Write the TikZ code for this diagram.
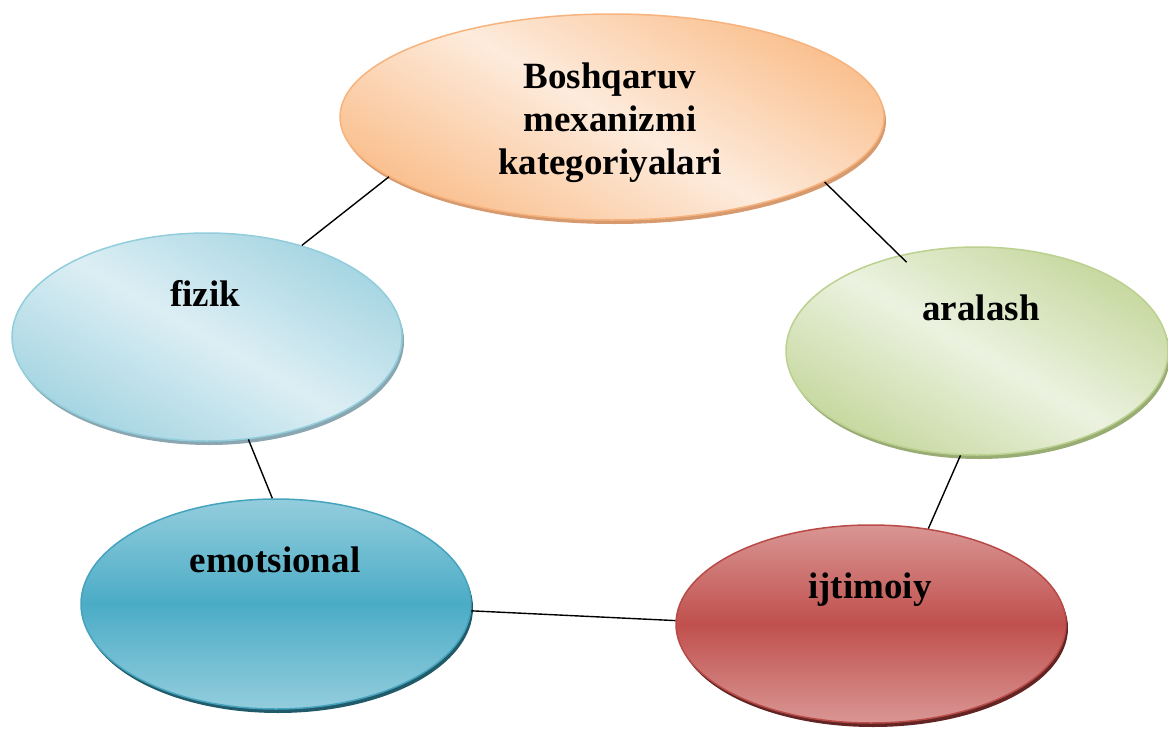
\documentclass[tikz,border=0pt]{standalone}
\usepackage{fontspec}
\setmainfont{Liberation Serif}
\usetikzlibrary{shapes.geometric}
\definecolor{oedge}{HTML}{FAC08F}
\definecolor{ocenter}{HTML}{FDEBDC}
\definecolor{oborder}{HTML}{F7B37E}
\definecolor{oshadow}{HTML}{D69A6E}
\definecolor{bedge}{HTML}{A5D5E2}
\definecolor{bcenter}{HTML}{DCEEF4}
\definecolor{bborder}{HTML}{92CDDC}
\definecolor{bshadow}{HTML}{8AA6B0}
\definecolor{gedge}{HTML}{C6D89F}
\definecolor{gcenter}{HTML}{ECF2E0}
\definecolor{gborder}{HTML}{BCD18F}
\definecolor{gshadow}{HTML}{98AC74}
\definecolor{tedge}{HTML}{93CDDD}
\definecolor{tmid}{HTML}{4BACC6}
\definecolor{tborder}{HTML}{45A3BD}
\definecolor{tshadow}{HTML}{215A69}
\definecolor{redge}{HTML}{D99694}
\definecolor{rmid}{HTML}{C0504D}
\definecolor{rborder}{HTML}{B84A47}
\definecolor{rshadow}{HTML}{632523}
\begin{document}
\begin{tikzpicture}[x=1pt,y=-1pt,
  oval/.style={ellipse, inner sep=0pt, line width=1.5pt},
  lbl/.style={font=\fontsize{37}{43}\selectfont\bfseries, align=center, inner sep=0pt},
  link/.style={line width=1.4pt, black}]
\useasboundingbox (0,0) rectangle (1168,731);

% top
\node[oval, fill=oshadow, minimum width=544pt, minimum height=206pt] (Tsh) at (614,121) {};
\node[oval, draw=oborder, top color=oedge, bottom color=oedge, middle color=ocenter, shading angle=-30,
  minimum width=544pt, minimum height=206pt] (T) at (612,117) {};
\node[lbl, anchor=center] (Tt) at (610,123) {Boshqaruv\\mexanizmi\\kategoriyalari};

% fizik
\node[oval, fill=bshadow, minimum width=390pt, minimum height=208pt] (Fsh) at (209,341) {};
\node[oval, draw=bborder, top color=bedge, bottom color=bedge, middle color=bcenter, shading angle=-30,
  minimum width=390pt, minimum height=208pt] (F) at (207,337) {};
\node[lbl, anchor=base] (Ft) at (205,306) {fizik};

% aralash
\node[oval, fill=gshadow, minimum width=382pt, minimum height=208pt] (Ash) at (979,355) {};
\node[oval, draw=gborder, top color=gedge, bottom color=gedge, middle color=gcenter, shading angle=-30,
  minimum width=382pt, minimum height=208pt] (A) at (977,351) {};
\node[lbl, anchor=base] (At) at (981,320) {aralash};

% emotsional
\node[oval, fill=tshadow, minimum width=390pt, minimum height=210pt] (Esh) at (278,608) {};
\node[oval, draw=tborder, top color=tedge, bottom color=tedge, middle color=tmid,
  minimum width=390pt, minimum height=210pt] (E) at (276,604) {};
\node[lbl, anchor=base] (Et) at (275,572) {emotsional};

% ijtimoiy
\node[oval, fill=rshadow, minimum width=390pt, minimum height=198pt] (Ish) at (873,628) {};
\node[oval, draw=rborder, top color=redge, bottom color=redge, middle color=rmid,
  minimum width=390pt, minimum height=198pt] (I) at (871,624) {};
\node[lbl, anchor=base] (It) at (870,598) {ijtimoiy};

% connectors
\draw[link] (T.195) -- (F.44);
\draw[link, shorten >=-10pt] (T.343) -- (A.129);
\draw[link] (F.292) -- (E.92);
\draw[link] (A.261) -- (I.59);
\draw[link] (E.358) -- (I.179);
\end{tikzpicture}
\end{document}
